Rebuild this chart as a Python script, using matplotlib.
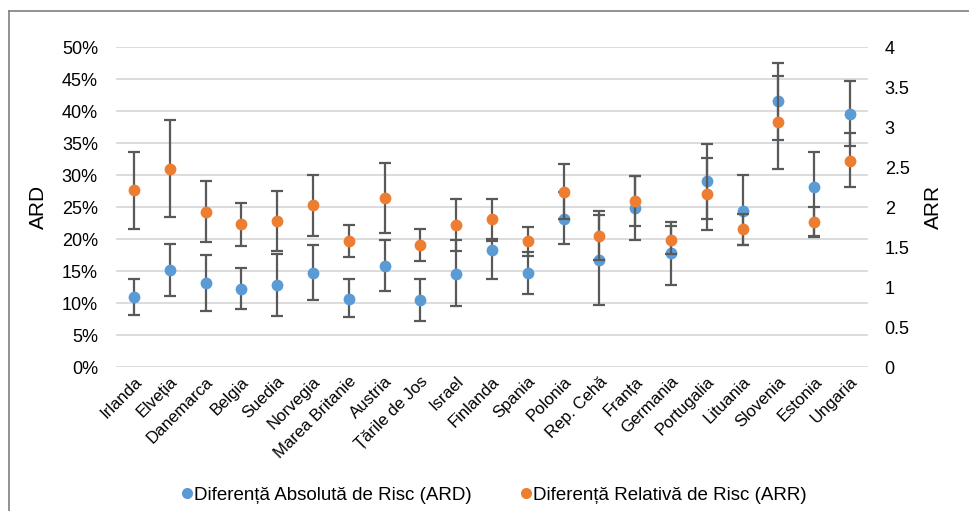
import numpy as np
import matplotlib.pyplot as plt
from matplotlib.lines import Line2D

plt.rcParams["font.family"] = ["Liberation Sans", "DejaVu Sans"]

countries = ["Irlanda", "Elveția", "Danemarca", "Belgia", "Suedia", "Norvegia",
             "Marea Britanie", "Austria", "Țările de Jos", "Israel", "Finlanda",
             "Spania", "Polonia", "Rep. Cehă", "Franța", "Germania", "Portugalia",
             "Lituania", "Slovenia", "Estonia", "Ungaria"]

# absolute risk difference (%), with CI bounds
ard = [10.9, 15.15, 13.1, 12.2, 12.8, 14.7, 10.7, 15.8, 10.5, 14.6, 18.3,
       14.7, 23.1, 16.7, 24.8, 17.8, 29.0, 24.4, 41.5, 28.2, 39.6]
ard_lo = [8.1, 11.1, 8.7, 9.1, 8.0, 10.4, 7.8, 11.8, 7.2, 9.5, 13.8,
          11.4, 19.2, 9.7, 19.8, 12.8, 23.1, 19.0, 35.4, 20.4, 34.5]
ard_hi = [13.75, 19.2, 17.5, 15.4, 17.65, 19.1, 13.7, 19.9, 13.7, 19.8, 20.0,
          18.0, 27.3, 23.7, 29.8, 22.6, 34.8, 30.0, 47.5, 33.6, 44.7]

# relative risk ratio, with CI bounds
arr = [2.21, 2.48, 1.94, 1.79, 1.83, 2.02, 1.57, 2.11, 1.525, 1.775, 1.85,
       1.57, 2.19, 1.64, 2.07, 1.59, 2.16, 1.72, 3.06, 1.81, 2.58]
arr_lo = [1.72, 1.87, 1.56, 1.51, 1.45, 1.64, 1.37, 1.67, 1.325, 1.45, 1.58,
          1.39, 1.85, 1.34, 1.76, 1.41, 1.71, 1.52, 2.475, 1.63, 2.25]
arr_hi = [2.69, 3.09, 2.325, 2.05, 2.20, 2.40, 1.775, 2.55, 1.73, 2.10, 2.10,
          1.745, 2.54, 1.95, 2.39, 1.76, 2.61, 1.91, 3.64, 2.00, 2.92]

BLUE = "#5B9BD5"
ORANGE = "#ED7D31"
ERR = "#595959"
GRID = "#D9D9D9"

fig = plt.figure(figsize=(9.7, 5.11), dpi=100)
W, H = 970.0, 511.0
ax = fig.add_axes([116 / W, 1 - 367 / H, (868 - 116) / W, (367 - 47) / H])
ax2 = ax.twinx()

x = np.arange(len(countries))
ard = np.array(ard); arr = np.array(arr)
ard_err = [ard - np.array(ard_lo), np.array(ard_hi) - ard]
arr_err = [arr - np.array(arr_lo), np.array(arr_hi) - arr]

ax.errorbar(x, ard, yerr=ard_err, fmt="o", color=BLUE, ms=8.5, mec="none",
            ecolor=ERR, elinewidth=1.6, capsize=4.5, capthick=1.6, zorder=3)
ax2.errorbar(x, arr, yerr=arr_err, fmt="o", color=ORANGE, ms=8.5, mec="none",
             ecolor=ERR, elinewidth=1.6, capsize=4.5, capthick=1.6, zorder=3)

ax.set_xlim(-0.5, len(countries) - 0.5)
ax.set_ylim(0, 50)
ax2.set_ylim(0, 4)
ax.set_yticks(np.arange(0, 51, 5))
ax.set_yticklabels([f"{v}%" for v in range(0, 51, 5)])
ax2.set_yticks(np.arange(0, 4.01, 0.5))
ax2.set_yticklabels(["0", "0.5", "1", "1.5", "2", "2.5", "3", "3.5", "4"])

ax.set_axisbelow(True)
ax.yaxis.grid(True, color=GRID, lw=1.3)
for a in (ax, ax2):
    for s in a.spines.values():
        s.set_visible(False)
    a.tick_params(length=0, labelsize=13, colors="#000000")
ax.tick_params(axis="y", pad=13)
ax2.tick_params(axis="y", pad=12)

ax.set_xticks(x)
ax.set_xticklabels(countries, rotation=45, ha="right", rotation_mode="anchor",
                   fontsize=12)
ax.tick_params(axis="x", pad=5)

ax.set_ylabel("ARD", fontsize=15, labelpad=10)
ax2.set_ylabel("ARR", fontsize=15, labelpad=10)

handles = [Line2D([], [], ls="none", marker="o", ms=8, color=BLUE, mec="none"),
           Line2D([], [], ls="none", marker="o", ms=8, color=ORANGE, mec="none")]
fig.legend(handles, ["Diferență Absolută de Risc (ARD)",
                     "Diferență Relativă de Risc (ARR)"],
           loc="center", bbox_to_anchor=(494 / W, 1 - 495 / H), ncol=2,
           frameon=False, fontsize=13.5, handletextpad=0.05,
           columnspacing=2.6, handlelength=0.6)

# chart frame (only left and top edges are visible in the crop)
fig.add_artist(Line2D([9 / W, 9 / W], [0, 1 - 11 / H], color="#7F7F7F",
                      lw=1.2, transform=fig.transFigure))
fig.add_artist(Line2D([9 / W, 1], [1 - 11 / H, 1 - 11 / H], color="#7F7F7F",
                      lw=1.2, transform=fig.transFigure))

fig.savefig("out.png", dpi=100)
